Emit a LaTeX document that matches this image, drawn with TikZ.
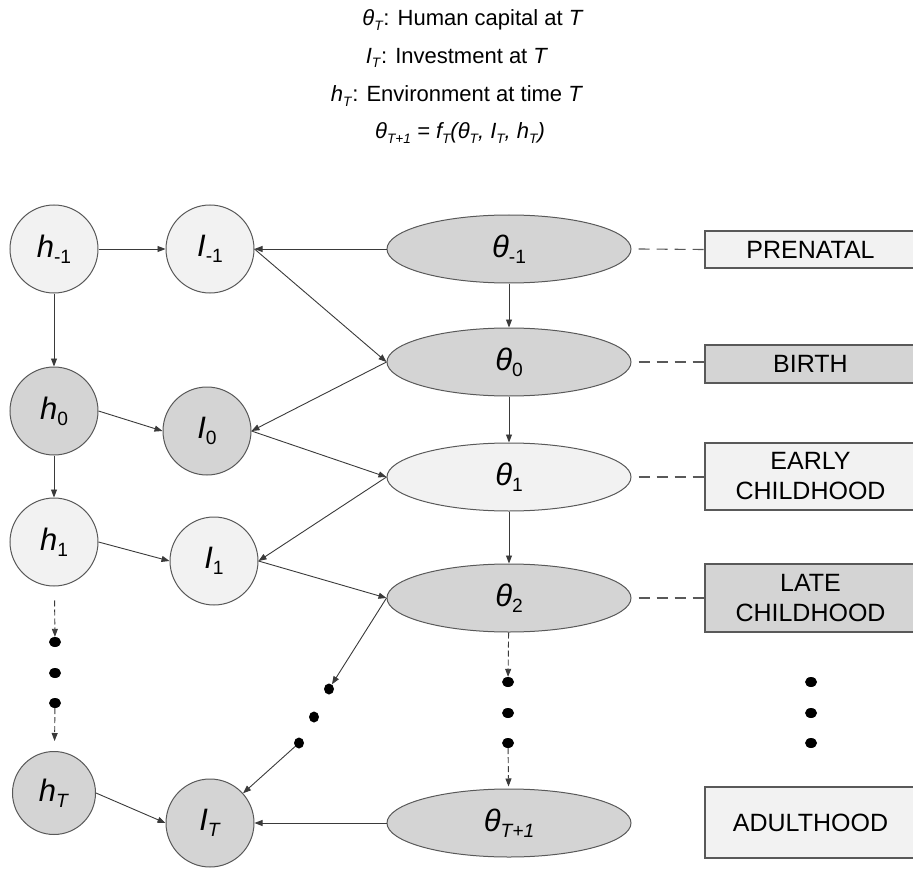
\documentclass[tikz,border=0pt]{standalone}
\usepackage{fontspec}
\setmainfont{Liberation Sans}
\usetikzlibrary{arrows.meta,shapes.geometric}
\definecolor{lightfill}{HTML}{F2F2F2}
\definecolor{darkfill}{HTML}{D4D4D4}
\definecolor{edgegray}{HTML}{595959}
\definecolor{linegray}{HTML}{3A3A3A}
\newcommand{\sbt}[1]{\raisebox{-0.2em}{\scalebox{0.62}{#1}}}
\begin{document}
\begin{tikzpicture}[x=1pt,y=-1pt,
  circnode/.style={circle, draw=edgegray, line width=1pt, minimum size=88pt, inner sep=0pt, font=\fontsize{31}{31}\selectfont},
  ellnode/.style={ellipse, draw=edgegray, line width=1pt, minimum width=244pt, minimum height=68pt, inner sep=0pt, font=\fontsize{31}{31}\selectfont},
  stagebox/.style={rectangle, draw=edgegray, line width=1.3pt, minimum width=211pt, inner sep=0pt, font=\fontsize{25}{30}\selectfont, align=center},
  arr/.style={-{Triangle[length=8pt,width=6pt]}, draw=linegray, line width=0.9pt},
  dasharr/.style={arr, dash pattern=on 6pt off 3pt},
  link/.style={draw=edgegray, line width=1.1pt, dash pattern=on 11pt off 7pt},
  dotnode/.style={ellipse, fill=black, minimum width=12pt, minimum height=10pt, inner sep=0pt},
  ddotnode/.style={ellipse, fill=black, minimum width=10pt, minimum height=11pt, inner sep=0pt},
  titletext/.style={font=\fontsize{22}{22}\selectfont, inner sep=0pt}]
\path[use as bounding box] (0,0) rectangle (913,869);
\clip (0,0) rectangle (913,869);

% title
\node[titletext] (title1) at (473,20) {\textit{θ}\sbt{\textit{T}}: Human capital at \textit{T}};
\node[titletext] (title2) at (457,58) {\textit{I}\sbt{\textit{T}}: Investment at \textit{T}};
\node[titletext] (title3) at (457,96) {\textit{h}\sbt{\textit{T}}: Environment at time \textit{T}};
\node[titletext] (title4) at (460,133) {\textit{θ\sbt{T+1} = f\sbt{T}(θ\sbt{T}, I\sbt{T}, h\sbt{T})}};

% left column h
\node[circnode, fill=lightfill] (hm1) at (54,249) {\textit{h}\sbt{-1}};
\node[circnode, fill=darkfill] (h0) at (54,411) {\textit{h}\sbt{0}};
\node[circnode, fill=lightfill] (h1) at (54,542) {\textit{h}\sbt{1}};
\node[circnode, fill=darkfill, minimum size=83pt] (hT) at (54,793) {\textit{h}\sbt{\textit{T}}};

% investment column
\node[circnode, fill=lightfill] (Im1) at (210,249) {\textit{I}\sbt{-1}};
\node[circnode, fill=darkfill] (I0) at (207,431) {\textit{I}\sbt{0}};
\node[circnode, fill=lightfill] (I1) at (214,561) {\textit{I}\sbt{1}};
\node[circnode, fill=darkfill] (IT) at (210,823) {\textit{I}\sbt{\textit{T}}};

% theta column
\node[ellnode, fill=darkfill] (tm1) at (509,249) {\textit{θ}\sbt{-1}};
\node[ellnode, fill=darkfill] (t0) at (509,362) {\textit{θ}\sbt{0}};
\node[ellnode, fill=lightfill] (t1) at (509,477) {\textit{θ}\sbt{1}};
\node[ellnode, fill=darkfill] (t2) at (509,598) {\textit{θ}\sbt{2}};
\node[ellnode, fill=darkfill] (tT) at (509,823) {\textit{θ}\sbt{\textit{T+1}}};

% stage boxes
\node[stagebox, fill=lightfill, minimum height=37pt] (pre) at (810.5,249.5) {PRENATAL};
\node[stagebox, fill=darkfill, minimum height=38pt] (birth) at (810.5,364) {BIRTH};
\node[stagebox, fill=lightfill, minimum height=67pt] (early) at (810.5,476.5) {EARLY\\CHILDHOOD};
\node[stagebox, fill=darkfill, minimum height=68pt] (late) at (810.5,598) {LATE\\CHILDHOOD};
\node[stagebox, fill=lightfill, minimum height=71pt] (adult) at (810.5,822.5) {ADULTHOOD};

% dots
\node[dotnode] (ld1) at (55,642) {};
\node[dotnode] (ld2) at (55,673) {};
\node[dotnode] (ld3) at (55,703) {};
\node[dotnode] (md1) at (508,682) {};
\node[dotnode] (md2) at (508,713) {};
\node[dotnode] (md3) at (508,743) {};
\node[dotnode] (rd1) at (811,682) {};
\node[dotnode] (rd2) at (811,713) {};
\node[dotnode] (rd3) at (811,743) {};
\node[ddotnode] (dd1) at (329,689) {};
\node[ddotnode] (dd2) at (314,717) {};
\node[ddotnode] (dd3) at (299,743) {};

% dashed links to stages
\draw[link] ([xshift=7pt]tm1.east) -- (pre.west);
\draw[link] ([xshift=7pt]t0.east) -- (birth.west |- t0.east);
\draw[link] ([xshift=7pt]t1.east) -- (early.west |- t1.east);
\draw[link] ([xshift=7pt]t2.east) -- (late.west |- t2.east);

% arrows
\draw[arr] (hm1) -- (Im1);
\draw[arr] (tm1.west) -- (Im1.east);
\draw[arr] (Im1.east) -- (t0.west);
\draw[arr] (tm1) -- (t0);
\draw[arr] (hm1) -- (h0);
\draw[arr] (h0.east) -- (I0.west);
\draw[arr] (t0.west) -- (I0.east);
\draw[arr] (I0.east) -- (t1.west);
\draw[arr] (t0) -- (t1);
\draw[arr] (h0) -- (h1);
\draw[arr] (h1.east) -- (I1.west);
\draw[arr] (t1.west) -- (I1.east);
\draw[arr] (I1.east) -- (t2.west);
\draw[arr] (t1) -- (t2);
\draw[dasharr, shorten <=14pt] (h1) -- (ld1);
\draw[dasharr, shorten >=10pt] (ld3) -- (hT);
\draw[dasharr] (t2) -- (md1);
\draw[dasharr, shorten >=2pt] (md3) -- (tT);
\draw[arr] (t2.west) -- (dd1);
\draw[arr] (dd3) -- (IT);
\draw[arr] (hT.east) -- (IT.west);
\draw[arr] (tT.west) -- (IT.east);
\end{tikzpicture}
\end{document}
